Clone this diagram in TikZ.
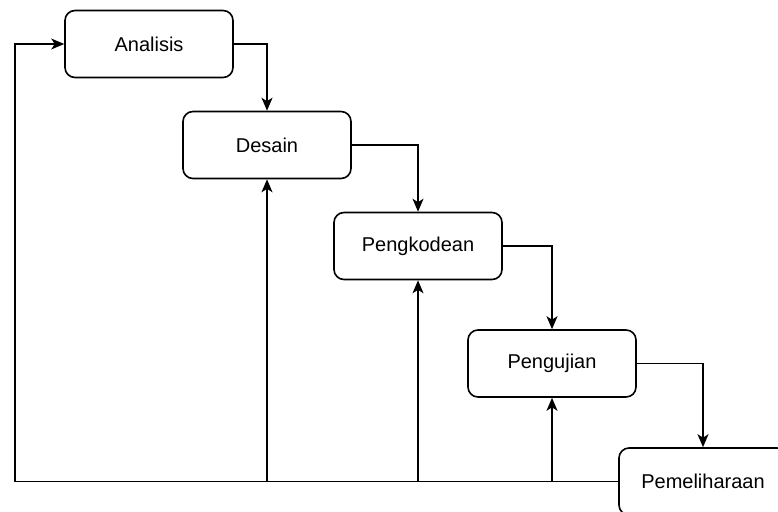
\documentclass[tikz,border=0pt]{standalone}
\usepackage{fontspec}
\setmainfont{Liberation Sans}
\usetikzlibrary{arrows.meta}
\begin{document}
\begin{tikzpicture}[x=1pt,y=-1pt,
  box/.style={draw, line width=1.6pt, rounded corners=10pt, minimum width=168pt, minimum height=67pt, inner sep=0pt, font=\fontsize{20}{22}\selectfont},
  arr/.style={line width=1.6pt, -{Stealth[length=13pt,width=11pt,inset=3.5pt]}},
  ln/.style={line width=1.6pt}]
\useasboundingbox (0,0) rectangle (778,511);
\begin{scope}
\clip (0,0) rectangle (778,511);
\node[box] (ana) at (149,44) {Analisis};
\node[box] (des) at (267,145) {Desain};
\node[box] (pk) at (418,246) {Pengkodean};
\node[box] (uji) at (552,363.5) {Pengujian};
\node[box] (pem) at (703,481.5) {Pemeliharaan};
\coordinate (bl) at (15,481.5);
\draw[arr] (ana.east) -| (des.north);
\draw[arr] (des.east) -| (pk.north);
\draw[arr] (pk.east) -| (uji.north);
\draw[arr] (uji.east) -| (pem.north);
\draw[arr] (pem.west) -- (bl) |- (ana.west);
\draw[arr] (des.south |- pem.west) -- (des.south);
\draw[arr] (pk.south |- pem.west) -- (pk.south);
\draw[arr] (uji.south |- pem.west) -- (uji.south);
\end{scope}
\end{tikzpicture}
\end{document}
